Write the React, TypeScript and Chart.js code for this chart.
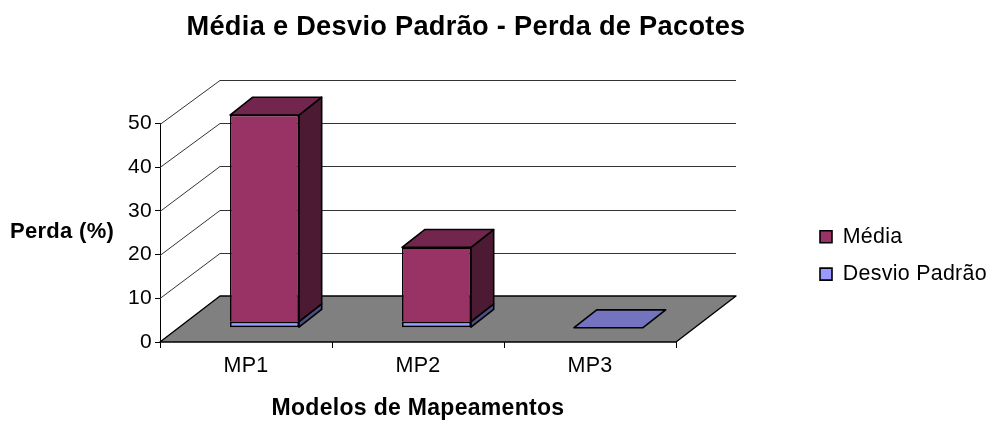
import React, { useEffect, useRef } from "react";
import { Chart, registerables } from "chart.js";

Chart.register(...registerables);

const categories = ["MP1", "MP2", "MP3"];
const mediaValues = [47.3, 17.0, 0];
const desvioValues = [1.4, 1.4, 0];
const yTicks = [0, 10, 20, 30, 40, 50];

const FONT = "'Liberation Sans', Arial, sans-serif";
const COLORS = {
  media: { front: "#993366", top: "#73264D", side: "#4D1A33" },
  desvio: { front: "#9999FF", top: "#7373BF", side: "#4D4D80" },
};
const WALL = { dx: 60, dy: 46 };
const BAR = { sx: 18.5, sy: 14.3, dx: 22.7, dy: 17.8 };
const LEGEND_GAP = 16;

const quad = (ctx: any, pts: number[][], fill: string | null, stroke: string, lw: number) => {
  ctx.beginPath();
  pts.forEach((p, i) => (i ? ctx.lineTo(p[0], p[1]) : ctx.moveTo(p[0], p[1])));
  ctx.closePath();
  if (fill) {
    ctx.fillStyle = fill;
    ctx.fill();
  }
  ctx.lineWidth = lw;
  ctx.strokeStyle = stroke;
  ctx.lineJoin = "round";
  ctx.stroke();
};

const depthPlugin = {
  id: "depth3d",
  beforeDraw(chart: any) {
    chart.ctx.letterSpacing = "0.3px";
  },
  afterLayout(chart: any) {
    if (chart.titleBlock) {
      chart.titleBlock.left = 0;
      chart.titleBlock.right = 932;
    }
    const lg = chart.legend;
    if (lg) {
      lg.left = 820 - LEGEND_GAP;
      lg.right = 994;
      lg.top = 226 - LEGEND_GAP;
      lg.bottom = 423;
    }
  },
  beforeDatasetsDraw(chart: any) {
    const { ctx, scales } = chart;
    const { x, y } = scales;
    const left = x.left;
    const right = x.right;
    const y0 = y.getPixelForValue(0);
    ctx.save();
    yTicks.forEach((t) => {
      const py = Math.round(y.getPixelForValue(t)) + 0.5;
      const by = Math.round(y0 - WALL.dy + (py - y0) * 0.993) + 0.5;
      ctx.beginPath();
      ctx.moveTo(left, py);
      ctx.lineTo(left + WALL.dx, by);
      ctx.lineTo(right + WALL.dx, by);
      ctx.lineWidth = 1;
      ctx.strokeStyle = "#333333";
      ctx.stroke();
    });
    quad(
      ctx,
      [
        [left, y0],
        [left + WALL.dx, y0 - WALL.dy],
        [right + WALL.dx, y0 - WALL.dy],
        [right, y0],
      ],
      "#808080",
      "#000000",
      1.4
    );
    const mediaMeta = chart.getDatasetMeta(0).data;
    const desvioMeta = chart.getDatasetMeta(1).data;
    categories.forEach((_, i) => {
      const stack = [
        { el: desvioMeta[i], c: COLORS.desvio, v: desvioValues[i] },
        { el: mediaMeta[i], c: COLORS.media, v: mediaValues[i] },
      ];
      let topFace = stack[0];
      stack.forEach((s) => {
        const r = s.el.x + s.el.width / 2 + BAR.sx;
        const t = s.el.y - BAR.sy;
        const b = s.el.base - BAR.sy;
        if (s.v > 0) {
          topFace = s;
          quad(
            ctx,
            [
              [r, t],
              [r + BAR.dx, t - BAR.dy],
              [r + BAR.dx, b - BAR.dy],
              [r, b],
            ],
            s.c.side,
            "#000000",
            1.6
          );
        }
      });
      const e = topFace.el;
      const l = e.x - e.width / 2 + BAR.sx;
      const r = e.x + e.width / 2 + BAR.sx;
      const t = e.y - BAR.sy;
      quad(
        ctx,
        [
          [l, t],
          [l + BAR.dx, t - BAR.dy],
          [r + BAR.dx, t - BAR.dy],
          [r, t],
        ],
        topFace.c.top,
        "#000000",
        1.6
      );
    });
    ctx.restore();
  },
  beforeDatasetDraw(chart: any) {
    chart.ctx.save();
    chart.ctx.translate(BAR.sx, -BAR.sy);
  },
  afterDatasetDraw(chart: any) {
    chart.ctx.restore();
  },
  afterDraw(chart: any) {
    const { ctx } = chart;
    ctx.save();
    ctx.font = `bold 22px ${FONT}`;
    ctx.fillStyle = "#000000";
    ctx.textAlign = "left";
    ctx.textBaseline = "middle";
    ctx.fillText("Perda (%)", 10, 232);
    ctx.restore();
  },
};

export default function App() {
  const ref = useRef<HTMLCanvasElement | null>(null);
  useEffect(() => {
    document.body.style.margin = "0";
    const chart = new Chart(ref.current as HTMLCanvasElement, {
      type: "bar",
      data: {
        labels: categories,
        datasets: [
          {
            label: "Média",
            data: mediaValues,
            backgroundColor: COLORS.media.front,
            borderColor: "#000000",
            borderWidth: 1.6,
            borderSkipped: "bottom",
            order: 2,
            clip: false,
          },
          {
            label: "Desvio Padrão",
            data: desvioValues,
            backgroundColor: COLORS.desvio.front,
            borderColor: "#000000",
            borderWidth: 1.6,
            borderSkipped: false,
            order: 1,
            clip: false,
          },
        ],
      },
      options: {
        responsive: false,
        animation: false,
        layout: { padding: { right: 318 } },
        datasets: { bar: { barPercentage: 1, categoryPercentage: 0.401 } },
        plugins: {
          tooltip: { enabled: false },
          title: {
            display: true,
            text: "Média e Desvio Padrão - Perda de Pacotes",
            color: "#000000",
            font: { family: FONT, size: 27.2, weight: "bold", lineHeight: 1.2 },
            padding: { top: 11, bottom: 80 },
          },
          legend: {
            display: true,
            position: "chartArea",
            align: "start",
            labels: {
              color: "#000000",
              font: { family: FONT, size: 21.4 },
              boxWidth: 12,
              boxHeight: 12,
              padding: LEGEND_GAP,
              sort: (a: any, b: any) => a.datasetIndex - b.datasetIndex,
            },
          },
        },
        scales: {
          x: {
            stacked: true,
            grid: { display: true, drawOnChartArea: false, color: "#000000", tickLength: 6 },
            border: { display: false },
            ticks: { color: "#000000", font: { family: FONT, size: 21.5 }, padding: 5, maxRotation: 0 },
            title: {
              display: true,
              text: "Modelos de Mapeamentos",
              color: "#000000",
              font: { family: FONT, size: 23, weight: "bold" },
              padding: { top: 0, bottom: 1 },
            },
            afterFit(scale: any) {
              scale.height = 81;
            },
          },
          y: {
            stacked: true,
            min: 0,
            max: 50,
            grid: { display: true, drawOnChartArea: false, color: "#000000", tickLength: 5 },
            border: { display: true, color: "#000000", width: 1 },
            ticks: {
              color: "#000000",
              font: { family: FONT, size: 21 },
              stepSize: 10,
              padding: 3,
            },
            afterFit(scale: any) {
              scale.width = 160;
            },
          },
        },
      } as any,
      plugins: [depthPlugin],
    });
    return () => chart.destroy();
  }, []);
  return (
    <div style={{ position: "absolute", left: 0, top: 0, width: 994, height: 423 }}>
      <canvas ref={ref} width={994} height={423} style={{ display: "block" }} />
    </div>
  );
}
